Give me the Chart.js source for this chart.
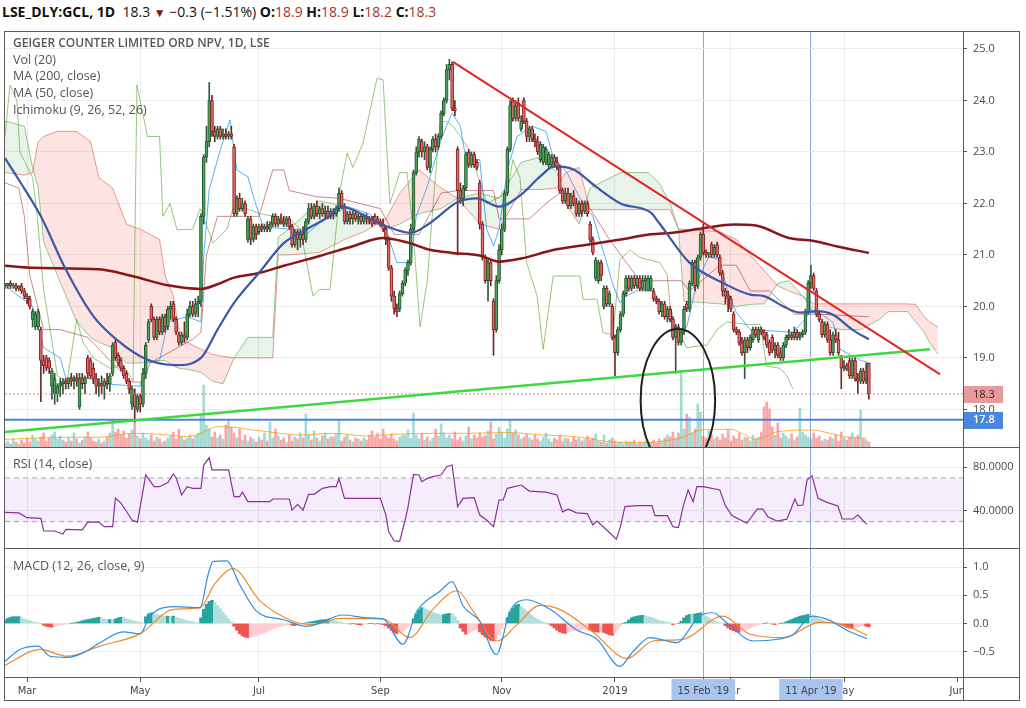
<!DOCTYPE html>
<html>
<head>
<meta charset="utf-8">
<title>LSE_DLY:GCL, 1D</title>
<script src="https://cdn.jsdelivr.net/npm/chart.js@4.4.1/dist/chart.umd.min.js"></script>
<style>
  body { margin: 0; background: #fff; }
  #page { position: relative; width: 1026px; height: 708px; overflow: hidden; font-family: "Open Sans", sans-serif; }
  canvas { position: absolute; }
  .rule { position: absolute; background: #5b5b5b; z-index: 3; }
  .legend { position: absolute; left: 13px; font-size: 12.5px; line-height: 16px; color: #555; white-space: nowrap; z-index: 4; }
  .legend.title { font-weight: 600; font-size: 12px; }
  #header { position: absolute; left: 2px; top: 3px; font-size: 14px; line-height: 18px; color: #111; white-space: nowrap; }
  #header .v { color: #a8332b; }
  #header .dn { color: #8c1111; font-size: 12px; }
  #cover { position: absolute; left: 964px; top: 678px; width: 55px; height: 22px; background: #fff; z-index: 2; }
</style>
</head>
<body>
<div id="page">
  <div id="header"><b>LSE_DLY:GCL, 1D</b>&nbsp; 18.3 <span class="dn">▼</span> −0.3 (−1.51%) <b>O:</b><span class="v">18.9</span> <b>H:</b><span class="v">18.9</span> <b>L:</b><span class="v">18.2</span> <b>C:</b><span class="v">18.3</span></div>

  <canvas id="priceChart" width="1014" height="415" style="left:5px;top:32px"></canvas>
  <canvas id="rsiChart" width="1014" height="100" style="left:5px;top:448px"></canvas>
  <canvas id="macdChart" width="1014" height="151" style="left:5px;top:549px"></canvas>
  <div id="cover"></div>

  <div class="legend title" style="top:35px">GEIGER COUNTER LIMITED ORD NPV, 1D, LSE</div>
  <div class="legend" style="top:52px">Vol (20)</div>
  <div class="legend" style="top:68px">MA (200, close)</div>
  <div class="legend" style="top:85px">MA (50, close)</div>
  <div class="legend" style="top:102px">Ichimoku (9, 26, 52, 26)</div>
  <div class="legend" style="top:456px">RSI (14, close)</div>
  <div class="legend" style="top:558px">MACD (12, 26, close, 9)</div>

  <div class="rule" style="left:4px;top:31px;width:1016px;height:1px"></div>
  <div class="rule" style="left:4px;top:447px;width:1016px;height:1px"></div>
  <div class="rule" style="left:4px;top:548px;width:1016px;height:1px"></div>
  <div class="rule" style="left:4px;top:677px;width:1016px;height:1px"></div>
  <div class="rule" style="left:4px;top:700px;width:1016px;height:1px"></div>
  <div class="rule" style="left:4px;top:31px;width:1px;height:670px"></div>
  <div class="rule" style="left:963px;top:31px;width:1px;height:670px"></div>
  <div class="rule" style="left:1019px;top:31px;width:1px;height:670px"></div>
</div>

<script>
// daily bars, one per trading day: [open, high, low, close]
const candles = [
  [20.4,20.45,20.35,20.4],[20.4,20.45,20.35,20.45],[20.45,20.5,20.35,20.4],[20.4,20.45,20.35,20.4],[20.4,20.45,20.3,20.35],
  [20.35,20.4,20.3,20.4],[20.4,20.45,20.25,20.3],[20.3,20.35,20.15,20.2],[20.2,20.25,20.05,20.15],[20.15,20.2,19.95,20.0],
  [19.75,19.95,19.6,19.9],[19.6,19.9,19.55,19.85],[19.6,19.95,19.55,19.9],[19.55,19.6,18.15,18.95],[18.95,19.05,18.7,18.85],
  [19.0,19.05,18.75,18.8],[18.95,19.0,18.7,18.8],[18.45,18.8,18.2,18.75],[18.3,18.7,18.1,18.6],[18.3,18.5,18.15,18.45],
  [18.45,18.6,18.25,18.5],[18.5,18.6,18.3,18.55],[18.55,18.6,18.4,18.5],[18.5,18.6,18.4,18.6],[18.6,18.7,18.45,18.55],
  [18.55,18.65,18.4,18.6],[18.6,18.7,18.45,18.55],[18.05,18.7,18.0,18.6],[18.6,18.7,18.4,18.5],[18.5,18.65,18.3,18.6],
  [19.0,19.05,18.6,18.7],[18.95,19.0,18.6,18.65],[18.8,18.9,18.5,18.6],[18.6,18.7,18.3,18.45],[18.45,18.6,18.25,18.5],
  [18.5,18.65,18.3,18.45],[18.45,18.6,18.2,18.55],[18.55,18.7,18.4,18.5],[18.5,18.7,18.35,18.65],[18.7,19.3,18.65,19.25],
  [19.3,19.35,18.95,19.0],[19.05,19.1,18.85,18.9],[18.95,19.0,18.75,18.8],[18.8,18.85,18.6,18.65],[18.7,18.75,18.5,18.55],
  [18.55,18.6,18.3,18.4],[18.1,18.45,18.0,18.4],[18.3,18.4,17.75,18.05],[18.0,18.3,17.95,18.25],[18.25,18.3,17.95,18.1],
  [18.1,18.8,18.05,18.7],[18.7,19.3,18.6,19.25],[19.35,19.75,19.3,19.7],[20.0,20.05,19.7,19.75],[19.75,19.8,19.35,19.4],
  [19.4,19.8,19.35,19.75],[19.75,19.8,19.45,19.5],[19.5,19.85,19.45,19.8],[19.8,19.85,19.5,19.6],[19.6,20.0,19.55,19.95],
  [19.95,20.1,19.75,20.0],[20.05,20.1,19.7,19.75],[19.75,19.8,19.45,19.5],[19.45,19.5,19.25,19.3],[19.3,19.5,19.25,19.45],
  [19.45,19.7,19.3,19.4],[19.4,19.95,19.35,19.85],[19.85,20.1,19.8,20.0],[20.0,20.1,19.8,19.85],[19.85,20.15,19.8,20.05],
  [20.05,20.2,19.8,20.1],[20.1,21.8,20.0,21.75],[21.75,22.95,21.6,22.9],[22.9,23.5,22.8,23.2],[23.2,24.35,23.1,24.0],
  [24.0,24.1,23.3,23.4],[23.4,23.5,23.2,23.3],[23.3,23.5,23.25,23.45],[23.45,23.5,23.25,23.3],[23.3,23.45,23.25,23.35],
  [23.35,23.45,23.25,23.3],[23.3,23.4,23.25,23.35],[23.35,23.5,23.25,23.3],[23.1,23.15,21.75,21.8],[21.8,22.15,21.75,22.1],
  [22.1,22.2,21.85,21.9],[21.9,22.1,21.85,22.0],[22.0,22.05,21.75,21.8],[21.3,21.75,21.25,21.7],[21.7,21.75,21.2,21.3],
  [21.3,21.6,21.25,21.55],[21.55,21.6,21.3,21.4],[21.45,21.6,21.4,21.55],[21.55,21.6,21.45,21.5],[21.5,21.6,21.45,21.55],
  [21.55,21.65,21.45,21.5],[21.5,21.65,21.45,21.6],[21.6,21.8,21.55,21.75],[21.75,21.8,21.55,21.6],[21.6,21.75,21.55,21.7],
  [21.7,21.8,21.6,21.65],[21.65,21.75,21.55,21.6],[21.6,21.75,21.55,21.7],[21.7,21.75,21.5,21.55],[21.55,21.6,21.15,21.2],
  [21.2,21.5,21.15,21.45],[21.45,21.5,21.1,21.3],[21.3,21.5,21.15,21.4],[21.4,21.55,21.2,21.3],[21.3,21.7,21.25,21.65],
  [21.65,22.0,21.6,21.9],[21.9,22.0,21.7,21.75],[21.75,22.0,21.7,21.95],[21.95,22.05,21.75,21.8],[21.8,21.95,21.7,21.9],
  [21.9,22.0,21.75,21.8],[21.8,21.95,21.7,21.85],[21.85,21.95,21.7,21.75],[21.75,21.9,21.7,21.85],[21.85,21.9,21.7,21.8],
  [21.8,21.95,21.75,21.9],[21.9,22.3,21.85,22.2],[22.2,22.25,21.9,21.95],[21.95,22.0,21.6,21.65],[21.65,21.85,21.6,21.8],
  [21.8,21.85,21.6,21.7],[21.7,21.85,21.6,21.8],[21.8,21.85,21.65,21.7],[21.7,21.8,21.6,21.75],[21.75,21.8,21.6,21.65],
  [21.65,21.8,21.6,21.75],[21.75,21.8,21.6,21.7],[21.7,21.75,21.6,21.65],[21.7,21.75,21.55,21.6],[21.75,21.8,21.6,21.65],
  [21.7,21.75,21.6,21.62],[21.65,21.7,21.55,21.6],[21.6,21.7,21.45,21.5],[21.5,21.55,21.2,21.3],[21.3,21.35,20.7,20.75],
  [20.75,20.8,20.1,20.2],[20.2,20.3,19.85,19.95],[19.95,20.05,19.8,19.9],[19.95,20.3,19.9,20.25],[20.25,20.5,20.2,20.45],
  [20.45,20.75,20.4,20.7],[20.7,20.9,20.6,20.85],[20.85,21.6,20.8,21.5],[21.5,22.65,21.45,22.6],[22.6,23.1,22.55,23.0],
  [23.0,23.3,22.9,23.25],[23.2,23.25,22.9,23.0],[23.0,23.2,22.85,23.1],[23.1,23.15,22.65,22.7],[22.7,23.1,22.6,23.05],
  [23.05,23.3,23.0,23.25],[23.25,23.35,23.0,23.1],[23.1,23.35,23.05,23.3],[23.3,23.8,23.25,23.75],[23.75,24.05,23.7,24.0],
  [24.0,24.7,23.95,24.6],[24.6,24.8,24.4,24.7],[24.7,24.75,23.8,23.85],[23.85,24.0,23.7,23.8],[23.05,23.1,21.0,22.25],
  [22.25,22.4,22.0,22.1],[22.1,22.35,21.95,22.3],[22.3,23.0,22.25,22.95],[23.0,23.05,22.7,22.75],[22.75,23.0,22.7,22.95],
  [22.95,23.0,22.7,22.75],[22.8,22.85,22.65,22.7],[22.4,22.45,21.5,21.6],[21.6,21.65,20.9,20.95],[20.95,21.0,20.45,20.5],
  [20.5,20.9,20.1,20.85],[20.85,20.9,20.4,20.5],[20.1,20.15,19.05,19.55],[19.55,20.6,19.5,20.5],[20.5,21.2,20.45,21.1],
  [21.1,21.6,21.0,21.5],[21.5,22.25,21.45,22.2],[22.2,23.1,22.15,23.05],[23.05,24.0,23.0,23.9],[24.0,24.05,23.6,23.65],
  [23.65,24.0,23.6,23.9],[23.95,24.05,23.6,23.65],[23.45,23.7,23.4,23.6],[24.0,24.05,23.55,23.6],[23.6,23.65,23.2,23.3],
  [23.3,23.5,23.2,23.45],[23.45,23.5,23.2,23.25],[23.25,23.35,23.1,23.2],[23.2,23.3,22.95,23.0],[22.85,23.2,22.8,23.15],
  [22.8,23.15,22.75,23.1],[22.8,23.1,22.75,23.05],[22.75,23.0,22.7,22.95],[22.75,22.95,22.7,22.9],[22.9,22.95,22.7,22.8],
  [22.8,22.9,22.65,22.7],[22.7,22.75,22.2,22.25],[22.25,22.3,22.0,22.05],[22.05,22.3,22.0,22.2],[22.2,22.3,21.9,21.95],
  [21.95,22.2,21.9,22.15],[22.15,22.25,21.95,22.0],[22.0,22.1,21.75,21.8],[21.8,22.05,21.75,22.0],[22.0,22.05,21.75,21.85],
  [21.85,22.05,21.8,22.0],[22.0,22.05,21.75,21.8],[21.6,21.65,21.25,21.3],[21.3,21.35,21.0,21.05],[20.55,20.95,20.5,20.9],
  [20.5,20.9,20.45,20.85],[20.85,20.9,20.5,20.6],[20.0,20.4,19.95,20.35],[20.35,20.4,20.0,20.05],[20.05,20.3,20.0,20.25],
  [20.0,20.05,19.35,19.4],[19.4,19.45,18.65,19.1],[19.1,19.6,19.05,19.55],[19.55,19.9,19.5,19.85],[19.85,20.3,19.8,20.25],
  [20.25,20.6,20.2,20.55],[20.55,20.6,20.3,20.35],[20.35,20.6,20.3,20.55],[20.55,20.6,20.35,20.4],[20.4,20.6,20.35,20.55],
  [20.55,20.6,20.3,20.35],[20.35,20.6,20.3,20.5],[20.5,20.6,20.3,20.55],[20.3,20.6,20.3,20.55],[20.35,20.6,20.3,20.55],
  [20.3,20.35,20.1,20.15],[20.15,20.2,20.05,20.1],[20.1,20.15,19.85,19.9],[19.9,20.1,19.8,20.05],[20.05,20.1,19.75,19.8],
  [19.8,20.0,19.7,19.95],[19.95,20.0,19.7,19.75],[19.75,19.8,19.35,19.4],[19.4,19.65,18.7,19.6],[19.6,19.65,19.25,19.3],
  [19.3,19.55,19.25,19.5],[19.5,20.0,19.45,19.95],[20.05,20.1,19.9,19.95],[19.95,20.5,19.9,20.45],[20.45,20.9,20.4,20.85],
  [20.85,20.9,20.3,20.4],[20.4,21.0,20.35,20.95],[20.95,21.45,20.9,21.4],[21.4,21.6,21.0,21.05],[21.05,21.1,20.95,21.0],
  [21.0,21.05,20.95,21.02],[21.2,21.25,20.95,21.0],[21.0,21.2,20.95,21.15],[21.2,21.25,20.95,21.0],[20.95,21.0,20.6,20.65],
  [20.65,20.7,20.2,20.3],[20.3,20.35,20.05,20.2],[20.2,20.3,19.9,20.15],[20.15,20.2,19.9,19.95],[19.85,19.9,19.5,19.55],
  [19.55,19.6,19.45,19.5],[19.5,19.55,19.25,19.3],[19.3,19.4,19.05,19.1],[19.1,19.4,18.6,19.35],[19.35,19.4,19.1,19.2],
  [19.2,19.45,19.15,19.4],[19.35,19.6,19.3,19.55],[19.55,19.6,19.4,19.45],[19.35,19.6,19.3,19.55],[19.55,19.6,19.45,19.5],
  [19.5,19.55,19.35,19.4],[19.45,19.5,19.2,19.25],[19.3,19.35,19.05,19.1],[19.4,19.45,19.1,19.15],[19.15,19.3,19.0,19.25],
  [19.25,19.3,19.0,19.05],[19.1,19.2,18.95,19.0],[19.0,19.3,18.95,19.25],[19.25,19.45,19.2,19.4],[19.4,19.55,19.35,19.45],
  [19.45,19.5,19.35,19.4],[19.4,19.6,19.35,19.5],[19.5,19.55,19.35,19.4],[19.4,19.5,19.35,19.45],[19.45,19.55,19.4,19.5],
  [19.5,19.95,19.45,19.9],[19.9,20.5,19.85,20.45],[20.45,20.8,20.35,20.6],[20.6,20.65,20.3,20.35],[20.3,20.35,19.8,19.85],
  [19.85,19.9,19.7,19.75],[19.7,19.75,19.4,19.45],[19.45,19.7,19.4,19.65],[19.65,19.7,19.3,19.35],[19.35,19.55,19.05,19.1],
  [19.1,19.5,19.05,19.45],[19.45,19.55,19.3,19.35],[19.35,19.5,19.05,19.1],[19.0,19.05,18.4,18.8],[18.8,18.95,18.75,18.85],
  [18.85,18.9,18.75,18.78],[18.95,19.0,18.6,18.65],[18.65,19.0,18.6,18.95],[18.95,19.0,18.55,18.6],[18.6,18.7,18.3,18.55],
  [18.55,18.8,18.5,18.75],[18.75,18.8,18.5,18.55],[18.55,18.9,18.5,18.6],[18.9,18.9,18.2,18.3]
];

// volume per bar (thousand shares)
const volumes = [
  4,6,3,8,5,3,7,4,9,5, 12,8,6,10,14,6,9,12,15,8, 11,7,5,9,6,14,8,4,7,10, 15,9,6,5,8,4,6,10,14,27,
  15,18,12,16,9,13,17,24,11,8, 14,9,7,12,6,10,8,5,6,9, 11,15,8,18,10,7,9,12,8,11, 14,33,62,22,18,10,15,9,12,8,
  22,26,20,14,9,18,7,12,6,10, 8,5,10,7,14,6,25,9,18,11, 7,9,5,12,6,10,8,14,9,33, 12,7,16,9,6,11,14,8,10,10,
  13,27,6,10,12,7,5,9,8,6, 9,7,12,16,10,14,8,18,11,9, 13,8,6,10,12,12,17,9,34,12, 8,13,7,10,6,9,18,11,23,14,
  9,12,8,15,7,10,6,11,20,8, 12,9,14,10,11,16,25,8,13,20, 15,9,18,27,14,17,12,8,10,13, 9,7,12,8,6,10,14,8,5,9,
  7,12,6,9,8,5,10,7,9,6, 8,11,7,9,13,6,5,12,4,7, 9,6,4,5,3,6,4,5,7,3, 5,4,6,3,5,7,4,8,6,9,
  12,10,15,9,14,77,18,33,30,14, 18,43,35,11,9,16,12,8,10,7, 13,9,17,6,11,8,14,7,10,9, 6,12,8,10,15,40,45,38,20,12,
  24,9,14,11,8,13,7,10,39,15, 12,10,8,14,9,11,6,8,7,10, 8,12,6,15,9,7,10,14,9,12, 37,8,7,5
];
const volumeMa = [[0,7.7],[10,8.7],[22,9.7],[34,9.7],[46,13.7],[59,12],[66,10.3],[71,13.7],[77,20.3],[83,19.7],[88,17.7],[95,15.3],[107,12],[119,13.7],[131,11],[143,13],[155,13.7],[167,13.7],[179,14.3],[183,14.3],[195,12],[207,10.3],[219,5.3],[231,4.3],[241,7],[246,10.3],[252,17],[263,17.7],[267,13.7],[272,7.7],[280,15.3],[292,17],[299,13.7],[304,10.3],[312,8.7]];

// moving averages: [bar, value]
const ma200 = [[0,20.79],[10,20.75],[34,20.72],[46,20.59],[59,20.41],[71,20.34],[77,20.43],[83,20.56],[92,20.65],[101,20.79],[114,20.98],[126,21.17],[137,21.33],[146,21.24],[154,21.1],[162,21.04],[172,20.99],[179,20.87],[187,20.93],[199,21.1],[211,21.2],[223,21.3],[234,21.4],[242,21.43],[254,21.53],[264,21.59],[272,21.57],[284,21.33],[293,21.27],[302,21.16],[313,21.04]];
const ma50 = [[0,22.88],[5,22.46],[13,21.75],[22,20.72],[32,19.81],[41,19.33],[51,18.98],[62,18.86],[71,19.0],[77,19.55],[83,20.07],[92,20.65],[101,21.23],[109,21.49],[118,21.78],[121,21.94],[138,21.56],[147,21.43],[154,21.62],[164,22.03],[171,22.1],[179,21.94],[187,22.17],[194,22.53],[199,22.72],[206,22.66],[214,22.33],[223,22.0],[234,21.82],[237,21.62],[248,20.85],[260,20.46],[270,20.23],[275,20.2],[282,20.0],[288,19.88],[294,19.91],[300,19.84],[307,19.55],[313,19.36]];

// Ichimoku: cloud rows are [bar, lead 1, lead 2]
const cloud = [[0,23.6,22.6],[7,23.5,22.55],[10,22.7,22.6],[12,22.3,23.2],[14,21.25,23.3],[19,20.6,23.4],[26,19.7,23.4],[31,19.4,23.2],[34,19.3,22.5],[39,19.2,22.3],[44,18.9,21.6],[49,18.9,21.5],[56,18.95,21.3],[58,18.95,20.6],[61,18.85,20.2],[63,18.8,19.55],[66,18.78,19.3],[71,18.72,19.17],[75,18.55,19.07],[79,18.5,19.03],[83,19.0,19.0],[88,19.4,19.0],[97,19.4,19.0],[99,21.35,21.0],[103,21.5,21.0],[114,22.05,21.05],[123,21.95,21.3],[130,21.75,21.45],[138,21.5,21.7],[143,21.6,22.2],[150,21.8,22.65],[158,21.9,22.3],[164,22.1,22.1],[172,22.2,21.6],[179,22.1,21.5],[187,22.8,22.27],[194,22.9,22.27],[200,22.6,22.3],[203,22.0,22.6],[208,21.6,22.7],[212,22.3,21.88],[223,22.6,21.88],[233,22.6,21.88],[237,22.4,21.88],[241,22.0,21.88],[244,21.5,21.5],[246,20.1,21.5],[259,20.05,21.45],[265,20.0,21.3],[270,20.04,21.0],[275,20.05,20.7],[280,20.45,20.4],[284,20.5,20.3],[289,20.2,20.2],[293,19.9,20.05],[298,19.6,20.05],[303,19.55,20.05],[310,19.55,20.05],[317,19.75,20.05],[320,19.9,20.05],[327,19.9,20.05],[330,19.7,20.04],[333,19.5,19.8],[335,19.3,19.7],[338,19.07,19.6]];
const conversionLine = [[0,20.4],[10,20.0],[14,19.2],[20,19.0],[22,18.62],[30,18.62],[34,18.5],[49,18.45],[51,18.9],[56,18.95],[59,19.7],[66,19.8],[71,19.7],[72,20.97],[74,22.27],[78,23.04],[81.5,23.62],[84,22.65],[88,22.52],[90,22.13],[93.5,21.55],[103,21.5],[107,21.3],[114,21.62],[124,21.94],[132,21.8],[138,21.5],[142,20.85],[147,20.85],[149,21.75],[153,22.33],[158,23.24],[160.5,23.57],[162,23.75],[165,23.5],[167,22.85],[172,22.85],[174.5,21.5],[177,21.17],[179,21.5],[182,22.65],[185.5,23.3],[191,23.5],[196,23.4],[198.6,22.9],[203.6,22.6],[208,22.13],[213,21.75],[218,20.85],[220,20.46],[222.8,20.07],[225,20.2],[230,20.33],[235,20.3],[240,19.8],[243.5,19.55],[247,19.6],[250.7,20.46],[255,20.97],[259,20.9],[261.6,20.33],[265,19.88],[270,19.55],[285.5,19.5],[289,19.7],[291.7,19.88],[295,19.88],[300,19.69],[302.5,19.17],[310,18.95],[313,18.91]];
const baseLine = [[0,22.4],[5,22.3],[7,21.75],[9,20.6],[14,19.55],[20,19.55],[30,19.4],[38,18.95],[46,18.53],[50,18.53],[52.5,18.9],[68,19.36],[71,19.5],[73,21.0],[77,21.75],[92,21.75],[97,22.65],[101,22.65],[103,22.25],[113,22.13],[121,22.1],[136,21.9],[141,21.4],[150,21.4],[158,22.2],[164,22.25],[177,22.25],[179,21.7],[190,21.7],[196,22.0],[201,22.2],[212,21.9],[219,21.3],[230,20.5],[245,20.5],[248,20.3],[259,20.8],[265,20.8],[270,20.3],[277,20.3],[286,19.85],[295,19.85],[313,19.8]];
const laggingSpan = [[0,23.3],[1.8,24.3],[4.3,24.0],[5.4,23.0],[10,22.5],[11.6,21.8],[14,20.33],[19,18.65],[22.5,18.55],[26,19.75],[28.3,19.3],[32,19.0],[38,18.8],[43,18.85],[46.4,18.55],[47.8,24.3],[51.6,23.3],[56,23.3],[57.2,21.75],[59.8,22.0],[62.3,21.49],[68,21.5],[70.7,21.9],[75.4,21.23],[80.4,21.5],[82.6,21.9],[87.7,21.9],[92.4,21.8],[103,21.7],[107,21.5],[111.6,20.2],[114,20.33],[117.8,20.33],[121.4,22.27],[124,22.98],[126,22.7],[129.7,23.17],[134.8,24.43],[137,24.4],[138.4,23.0],[139.5,22.0],[143,22.6],[145.7,22.6],[147.8,21.5],[150.4,19.6],[153,20.5],[155,21.9],[157.6,23.57],[160,23.6],[162.3,23.5],[165,23.3],[168.5,23.0],[174.6,22.0],[182,22.2],[184,22.85],[186.6,22.5],[189,20.85],[192.8,20.2],[195,19.17],[198.6,20.59],[208.3,20.59],[209.4,20.14],[214.5,20.14],[216.7,19.49],[220.3,19.45],[222.8,20.91],[226.4,21.1],[230,20.95],[237.3,20.85],[240,20.6],[241,20.0],[243.5,19.55],[247,19.2],[254.3,19.25],[258,19.55],[261.6,19.7],[268.8,19.65],[273.6,19.65],[276,18.84],[280.8,18.8],[283.3,18.65],[285.5,18.4]];

// drawings on the price pane
const resistance = [[162.3,24.75],[338.8,18.68]];
const support = [[0,17.56],[335.1,19.17]];
const supportLevel = 17.8;
const lastClose = 18.3;
const circled = { bar: 243.8, price: 18.18, halfBars: 13.5, halfPrice: 1.38 };

// RSI (14)
const rsiLine = [[0,38.5],[5,38],[8,33.6],[13,33],[14,21.4],[18,21.4],[21,18.6],[22,23],[28,22.4],[30,29.6],[34,29.6],[36,25.4],[39,25.4],[40,51.6],[42,47],[44,39.5],[46,31.5],[48,29.5],[51,72.7],[54,62],[56,62],[59,65.8],[61,73.6],[62,70],[64,54.4],[66,62],[68,60.5],[71,60.5],[72,81.8],[74,88.5],[75,77.3],[81,77.3],[83,52.8],[85,52.8],[86,57],[88,48.3],[96,48.3],[97,50.7],[103,50.7],[104,40.6],[106,45.8],[108,40.6],[110,55],[112,55],[115,60.5],[118,62],[120,62],[121,69.6],[123,51.3],[136,51.3],[138,36],[139,21],[141,12.3],[143,12],[145,31.7],[146,43],[148,73.3],[150,72.7],[151,66.6],[153,69.6],[155,71.2],[158,72.7],[160,80.3],[162,81.8],[164,43.7],[166,51.3],[170,51.9],[172,36],[174.5,31.5],[177,25.4],[179,49.8],[180.5,49.8],[182,60.5],[187,63.5],[190,58],[196,57],[200,54.4],[202,39],[204,41.4],[205,40.5],[207,38],[211,37.4],[213,27],[214.5,30.6],[218,22.3],[221.5,14],[223,25.4],[224.6,43.7],[229,44.6],[234.4,44.6],[235.5,35.5],[240,35.5],[242,25.4],[244,24.5],[245.7,43.7],[247.5,59],[249.3,48.3],[250.7,62],[253,62],[259,59],[261,44.6],[263.4,35.5],[268.8,28.5],[272.5,41.5],[274.6,41.5],[276.4,34.5],[279.7,30.5],[283.3,32.3],[286.2,50.7],[287.3,44.6],[289.1,45.2],[290.6,68],[292.4,72],[294.6,51.3],[297.8,47.6],[301.8,44.3],[303.3,32.4],[307.2,32.4],[309,36],[312.3,27.5]];
const rsiBand = [70, 30];

// MACD (12, 26, 9)
const macdLine = [[0,-0.67],[5.4,-0.46],[12,-0.4],[16.3,-0.58],[22.5,-0.6],[28.3,-0.52],[34.4,-0.34],[42.8,-0.15],[49,-0.18],[52.5,0.13],[61,0.3],[70.7,0.28],[73.5,0.85],[75.4,1.1],[80.4,1.11],[85,0.69],[91.3,0.21],[100.7,0.07],[109.4,-0.05],[122.5,0.15],[131,0.1],[137,0.08],[144.2,-0.37],[149.3,0.22],[157.6,0.57],[162,0.74],[166,0.31],[172,0.04],[178,-0.55],[183,0.22],[189,0.42],[197.5,0.25],[207,-0.11],[214.5,-0.28],[222.8,-0.76],[227.5,-0.5],[233.7,-0.25],[243.5,-0.34],[248,-0.1],[250.7,0.1],[256.5,0.19],[261.6,0.01],[271,-0.31],[279.7,-0.28],[285.5,-0.2],[292.4,0.13],[299,0.05],[305,-0.12],[312.3,-0.27]];
const signalLine = [[0,-0.74],[12.7,-0.46],[22.5,-0.58],[34.4,-0.4],[49,-0.18],[61,0.25],[70.7,0.28],[76,0.7],[82.6,0.97],[92.4,0.4],[104.3,0.04],[111.6,-0.02],[121.4,0.09],[137,0.08],[146.7,-0.25],[155,0.25],[163.8,0.58],[169.6,0.22],[178.3,-0.31],[185.5,-0.02],[193.8,0.32],[201,0.25],[213,-0.15],[225.4,-0.62],[234.8,-0.31],[245.7,-0.28],[260,0.13],[270,-0.19],[282,-0.25],[295,0.02],[303.6,-0.02],[312.3,-0.21]];
const macdHist = [
  0.06,0.09,0.11,0.12,0.12,0.12,0.1,0.08,0.06,0.05,0.03,0.02,0.01,0.0,
  -0.03,-0.05,-0.06,-0.065,-0.05,-0.04,-0.03,-0.02,-0.01,-0.01,0.0,
  0.01,0.02,0.03,0.05,0.06,0.07,0.08,0.09,0.1,0.11,0.09,0.08,0.07,0.07,0.06,
  0.08,0.1,0.11,0.1,0.08,0.07,0.05,0.04,0.03,0.02,0.01,
  0.12,0.17,0.19,0.17,0.16,0.15,0.14,0.13,0.13,0.12,0.13,
  0.11,0.09,0.08,0.06,0.05,0.04,0.03,0.02,0.01,
  0.1,0.25,0.34,0.39,0.41,0.37,0.32,0.26,0.2,0.14,0.08,0.03,
  -0.05,-0.12,-0.18,-0.22,-0.24,-0.25,
  -0.24,-0.23,-0.22,-0.2,-0.18,-0.16,-0.14,-0.12,-0.1,-0.08,-0.06,-0.05,-0.04,-0.03,-0.02,
  -0.03,-0.04,-0.02,-0.01,0.0,0.01,0.02,0.03,
  0.04,0.05,0.06,0.065,0.07,0.07,0.06,0.05,0.04,0.03,0.02,
  0.01,0.0,-0.01,0.0,-0.01,-0.02,-0.025,-0.01,-0.01,0.0,0.0,-0.01,0.0,-0.01,-0.02,-0.04,
  -0.08,-0.12,-0.16,-0.18,-0.17,-0.14,-0.1,-0.06,-0.02,
  0.08,0.17,0.24,0.28,0.26,0.24,0.22,0.2,0.18,0.16,0.15,0.16,0.17,0.18,0.17,0.12,0.05,
  -0.08,-0.14,-0.19,-0.17,-0.14,-0.12,-0.1,-0.15,-0.2,-0.24,-0.27,-0.3,-0.31,-0.28,-0.2,-0.1,-0.02,
  0.1,0.2,0.27,0.32,0.34,0.3,0.26,0.22,0.18,0.14,0.1,0.07,0.04,0.02,0.01,-0.01,
  -0.04,-0.08,-0.12,-0.15,-0.17,-0.175,-0.15,-0.14,-0.13,-0.12,-0.12,-0.11,-0.1,-0.1,-0.12,-0.14,-0.15,-0.155,-0.14,
  -0.16,-0.18,-0.2,-0.21,-0.16,-0.1,-0.04,0.0,
  0.02,0.06,0.1,0.12,0.13,0.14,0.145,0.13,0.12,0.11,0.09,0.07,0.05,0.04,0.03,0.02,0.01,
  -0.02,-0.01,0.0,0.04,0.1,0.14,0.16,0.155,0.17,0.18,0.19,0.16,0.13,0.1,0.07,0.05,0.03,0.01,0.0,
  -0.04,-0.08,-0.11,-0.13,-0.15,-0.155,-0.14,-0.13,-0.1,-0.08,-0.06,-0.04,-0.02,
  -0.01,0.0,0.01,0.0,-0.01,-0.02,-0.01,0.0,0.01,0.03,0.05,0.07,0.09,0.11,0.13,0.14,0.15,0.16,
  0.14,0.12,0.1,0.08,0.06,0.04,0.03,0.02,0.01,0.0,-0.01,-0.03,-0.05,-0.07,-0.08,-0.085,-0.07,-0.06,-0.05,-0.04,-0.05,-0.06
];

// time axis: bar positions of the month ticks and the two marked dates
const monthTicks = [8, 49, 92, 136, 180, 221, 263, 304, 345];
const monthLabels = ['Mar', 'May', 'Jul', 'Sep', 'Nov', '2019', 'Mar', 'May', 'Jun'];
const markerTicks = [253, 292];
const markerLabels = ["15 Feb '19", "11 Apr '19"];

const X_MAX = 347.1;
const xTicks = monthTicks.concat(markerTicks);
const xLabels = monthLabels.concat(markerLabels);
const isMarker = i => i >= monthTicks.length;

const pts = rows => rows.map(r => ({ x: r[0], y: r[1] }));
const flat = v => [{ x: 0, y: v }, { x: X_MAX, y: v }];

const axisFont = { family: "'Open Sans', sans-serif", size: 11 };

function timeAxis(withLabels) {
    return {
        type: 'linear',
        min: 0,
        max: X_MAX,
        offset: false,
        afterBuildTicks: s => { s.ticks = xTicks.map(v => ({ value: v })); },
        afterFit: s => {
            s.height = withLabels ? 23 : 0;
            s.paddingLeft = 0;
            s.paddingRight = 0;
        },
        border: { display: false },
        grid: {
            offset: false,
            color: c => isMarker(c.index) ? 'rgba(110,150,200,0.8)' : (c.index === 8 ? 'rgba(0,0,0,0)' : '#ececec'),
            drawTicks: withLabels,
            tickLength: 5,
            tickColor: '#555'
        },
        ticks: {
            display: withLabels,
            autoSkip: false,
            maxRotation: 0,
            minRotation: 0,
            padding: 3,
            callback: (v, i) => xLabels[i],
            color: '#444',
            font: { family: "'DejaVu Sans Condensed', 'DejaVu Sans', sans-serif", size: 11 },
            showLabelBackdrop: c => isMarker(c.index),
            backdropColor: '#a9c4ee',
            backdropPadding: { x: 6, y: 6 }
        }
    };
}

function valueAxis(min, max, step, fmt) {
    return {
        position: 'right',
        min: min,
        max: max,
        afterFit: s => {
            s.width = 56;
            s.paddingTop = 0;
            s.paddingBottom = 0;
        },
        border: { display: false },
        grid: { color: '#ececec', tickColor: '#555', tickLength: 4 },
        ticks: { stepSize: step, includeBounds: false, padding: 6, color: '#4a4a4a', font: axisFont, callback: fmt }
    };
}

function line(data, color, width, extra) {
    return Object.assign({
        type: 'line',
        data: data,
        borderColor: color,
        borderWidth: width,
        pointRadius: 0,
        fill: false,
        tension: 0
    }, extra || {});
}

const baseOptions = {
    responsive: false,
    animation: false,
    events: [],
    layout: { padding: 0 },
    plugins: { legend: { display: false }, tooltip: { enabled: false } }
};

// ---------- price pane ----------
const isUp = candles.map(c => c[3] >= c[0]);
const bodyFill = isUp.map(u => u ? '#4f9f60' : '#e06a6a');
const bodyEdge = isUp.map(u => u ? '#1e5a2b' : '#8a1f1f');
const wickColor = isUp.map(u => u ? '#35573b' : '#6b2a2a');
const volColor = isUp.map(u => u ? 'rgba(38,166,154,0.42)' : 'rgba(239,83,80,0.5)');

function axisTag(ctx, area, yPix, text, bg, fg, bold) {
    ctx.save();
    ctx.fillStyle = bg;
    ctx.fillRect(area.right + 1, Math.round(yPix) - 8, 39, 17);
    ctx.fillStyle = fg;
    ctx.font = (bold ? '600 ' : '') + "11px 'Open Sans', sans-serif";
    ctx.textBaseline = 'middle';
    ctx.fillText(text, area.right + 10, yPix + 0.5);
    ctx.restore();
}

const priceMarks = {
    id: 'priceMarks',
    afterDatasetsDraw(chart) {
        const { ctx, chartArea, scales } = chart;
        const cx = scales.x.getPixelForValue(circled.bar);
        const cy = scales.y.getPixelForValue(circled.price);
        const rx = scales.x.getPixelForValue(circled.bar + circled.halfBars) - cx;
        const ry = scales.y.getPixelForValue(circled.price - circled.halfPrice) - cy;
        ctx.save();
        ctx.beginPath();
        ctx.rect(chartArea.left, chartArea.top, chartArea.right - chartArea.left, chartArea.bottom - chartArea.top);
        ctx.clip();
        ctx.beginPath();
        ctx.ellipse(cx, cy, rx, ry, 0, 0, Math.PI * 2);
        ctx.lineWidth = 2;
        ctx.strokeStyle = '#1f1f1f';
        ctx.stroke();
        ctx.restore();
    },
    afterDraw(chart) {
        const { ctx, chartArea, scales } = chart;
        axisTag(ctx, chartArea, scales.y.getPixelForValue(lastClose), lastClose.toFixed(1), '#e89a9c', '#3a2020', false);
        axisTag(ctx, chartArea, scales.y.getPixelForValue(supportLevel), supportLevel.toFixed(1), '#4a86dc', '#ffffff', true);
    }
};

new Chart(document.getElementById('priceChart'), {
    type: 'line',
    data: {
        datasets: [
            line(pts(resistance), '#e3261f', 2, { order: 0 }),
            line(pts(support), '#3fd83f', 2.5, { order: 0 }),
            line(flat(supportLevel), '#4a84d8', 2, { order: 0 }),
            line(flat(lastClose), '#d48a8a', 1, { order: 1, borderDash: [2, 2] }),
            line(pts(ma50), '#3c58a6', 2.2, { order: 2, cubicInterpolationMode: 'monotone' }),
            line(pts(ma200), '#8a1515', 2.5, { order: 2, cubicInterpolationMode: 'monotone' }),
            {
                type: 'bar', order: 3, grouped: false,
                data: candles.map((c, i) => ({ x: i, y: [c[0], c[3]] })),
                barThickness: 3, borderWidth: 1, borderSkipped: false, minBarLength: 1,
                backgroundColor: bodyFill, borderColor: bodyEdge
            },
            {
                type: 'bar', order: 4, grouped: false,
                data: candles.map((c, i) => ({ x: i, y: [c[2], c[1]] })),
                barThickness: 1, backgroundColor: wickColor
            },
            line(pts(conversionLine), 'rgba(33,150,243,0.75)', 1, { order: 5 }),
            line(pts(baseLine), 'rgba(153,21,21,0.5)', 1, { order: 5 }),
            line(pts(laggingSpan), 'rgba(69,153,21,0.55)', 1, { order: 5 }),
            line(cloud.map(r => ({ x: r[0], y: r[1] })), 'rgba(67,160,71,0.55)', 1, {
                order: 6,
                fill: { target: '+1', above: 'rgba(67,160,71,0.12)', below: 'rgba(244,67,54,0.14)' }
            }),
            line(cloud.map(r => ({ x: r[0], y: r[2] })), 'rgba(230,70,60,0.55)', 1, { order: 6 }),
            line(pts(volumeMa), 'rgba(255,152,0,0.75)', 1, { order: 7, yAxisID: 'yVol', cubicInterpolationMode: 'monotone' }),
            {
                type: 'bar', order: 8, grouped: false, yAxisID: 'yVol',
                data: volumes.map((v, i) => ({ x: i, y: v })),
                barThickness: 2, backgroundColor: volColor
            }
        ]
    },
    options: Object.assign({}, baseOptions, {
        scales: {
            x: timeAxis(false),
            y: valueAxis(17.27, 25.33, 1, v => v.toFixed(1)),
            yVol: { display: false, min: 0, max: 415 }
        }
    }),
    plugins: [priceMarks]
});

// ---------- RSI pane ----------
new Chart(document.getElementById('rsiChart'), {
    type: 'line',
    data: {
        datasets: [
            line(pts(rsiLine), '#8b2f9c', 1.2, { order: 0 }),
            line(flat(rsiBand[0]), '#aaa3b3', 1, { order: 1, borderDash: [5, 4], fill: '+1', backgroundColor: 'rgba(170,80,230,0.1)' }),
            line(flat(rsiBand[1]), '#aaa3b3', 1, { order: 1, borderDash: [5, 4] })
        ]
    },
    options: Object.assign({}, baseOptions, {
        scales: {
            x: timeAxis(false),
            y: valueAxis(5.86, 97.4, 40, v => v.toFixed(4))
        }
    })
});

// ---------- MACD pane ----------
const histColor = macdHist.map((v, i) => {
    const prev = i ? macdHist[i - 1] : 0;
    if (v >= 0) return v >= prev ? '#26a69a' : '#b2dfdb';
    return v < prev ? '#ef5350' : '#ffcdd2';
});

new Chart(document.getElementById('macdChart'), {
    type: 'line',
    data: {
        datasets: [
            line(pts(macdLine), '#2d8fe3', 1.2, { order: 0, cubicInterpolationMode: 'monotone' }),
            line(pts(signalLine), '#f08a2c', 1.2, { order: 0, cubicInterpolationMode: 'monotone' }),
            {
                type: 'bar', order: 1, grouped: false,
                data: macdHist.map((v, i) => ({ x: i, y: v })),
                barThickness: 2.8, backgroundColor: histColor
            }
        ]
    },
    options: Object.assign({}, baseOptions, {
        scales: {
            x: timeAxis(true),
            y: valueAxis(-0.948, 1.319, 0.5, v => (v < 0 ? '\u2212' : '') + Math.abs(v).toFixed(1))
        }
    })
});
</script>
</body>
</html>
